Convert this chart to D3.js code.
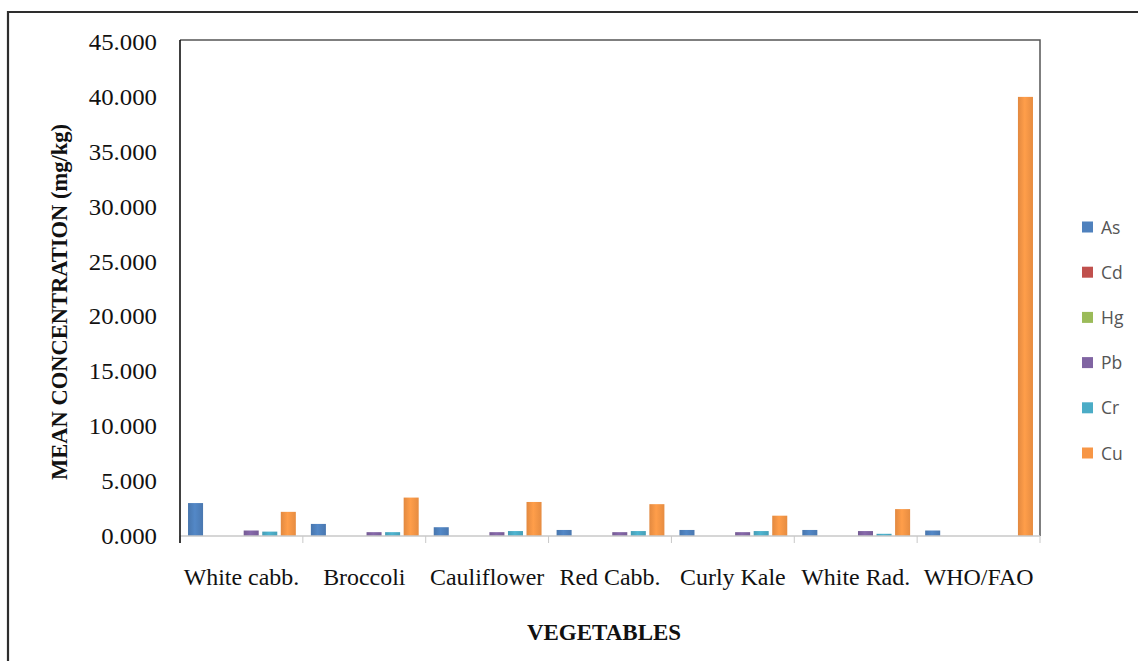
<!DOCTYPE html>
<html>
<head>
<meta charset="utf-8">
<script src="https://cdn.jsdelivr.net/npm/d3@7"></script>
<style>
  html, body { margin: 0; padding: 0; background: #fff; }
  svg { display: block; }
</style>
</head>
<body>
<svg id="chart" width="1138" height="661"></svg>
<script>
// Mean heavy-metal concentrations (mg/kg) per vegetable, plus the WHO/FAO limit
const categories = ["White cabb.", "Broccoli", "Cauliflower", "Red Cabb.", "Curly Kale", "White Rad.", "WHO/FAO"];
const seriesNames = ["As", "Cd", "Hg", "Pb", "Cr", "Cu"];
const seriesColors = ["#4F81BD", "#C0504D", "#9BBB59", "#8064A2", "#4BACC6", "#F79646"];

const As = [3.00, 1.10, 0.80, 0.55, 0.55, 0.55, 0.50];
const Cd = [0.00, 0.00, 0.00, 0.00, 0.00, 0.00, 0.00];
const Hg = [0.00, 0.00, 0.00, 0.00, 0.00, 0.00, 0.00];
const Pb = [0.50, 0.35, 0.35, 0.35, 0.35, 0.45, 0.00];
const Cr = [0.40, 0.35, 0.45, 0.45, 0.45, 0.20, 0.00];
const Cu = [2.20, 3.50, 3.10, 2.90, 1.85, 2.45, 40.00];
const seriesValues = [As, Cd, Hg, Pb, Cr, Cu];

const yTicks = [0, 5, 10, 15, 20, 25, 30, 35, 40, 45];

const svg = d3.select("#chart");
const plot = { left: 180, right: 1040, top: 42, bottom: 536 };
const serif = "'Liberation Serif', 'Times New Roman', serif";

// Outer frame (top and left edges)
svg.append("path")
  .attr("d", `M8,661 L8,12 L1138,12`)
  .attr("fill", "none").attr("stroke", "#2e2e2e").attr("stroke-width", 2.2);

const x0 = d3.scaleBand().domain(categories).range([plot.left, plot.right]).paddingInner(0).paddingOuter(0);
const x1 = d3.scaleBand().domain(seriesNames).range([4.5, x0.bandwidth() - 3.5]).paddingInner(0.19).paddingOuter(0.19);
const y = d3.scaleLinear().domain([0, 45]).range([plot.bottom, plot.top]);

// Gradients for the bar fills
const defs = svg.append("defs");
seriesNames.forEach((s, i) => {
  const c = d3.color(seriesColors[i]);
  const g = defs.append("linearGradient").attr("id", "grad-" + s)
    .attr("x1", "0%").attr("x2", "100%").attr("y1", "0%").attr("y2", "0%");
  g.append("stop").attr("offset", "0%").attr("stop-color", c.darker(0.25));
  g.append("stop").attr("offset", "45%").attr("stop-color", c.brighter(0.15));
  g.append("stop").attr("offset", "100%").attr("stop-color", c.darker(0.2));
});

// Bars
const groups = svg.append("g").selectAll("g").data(categories).join("g")
  .attr("transform", d => `translate(${x0(d)},0)`);
groups.selectAll("rect")
  .data((d, ci) => seriesNames.map((s, si) => ({ s, v: seriesValues[si][ci] })))
  .join("rect")
  .attr("x", d => x1(d.s))
  .attr("width", x1.bandwidth())
  .attr("y", d => y(d.v))
  .attr("height", d => y(0) - y(d.v))
  .attr("fill", d => `url(#grad-${d.s})`);

// Plot area border (top and right)
svg.append("path")
  .attr("d", `M${plot.left},${plot.top - 2} L${plot.right},${plot.top - 2} L${plot.right},${plot.bottom}`)
  .attr("fill", "none").attr("stroke", "#555").attr("stroke-width", 1.5);

// X axis
const xAxis = svg.append("g").attr("transform", `translate(0,${plot.bottom})`);
xAxis.append("line").attr("x1", plot.left).attr("x2", plot.right)
  .attr("stroke", "#c8c8c8").attr("stroke-width", 1.5);
const tickXs = categories.map(c => x0(c)).concat([plot.right]);
xAxis.selectAll(".xt").data(tickXs).join("line")
  .attr("x1", d => d).attr("x2", d => d).attr("y1", 0).attr("y2", 7)
  .attr("stroke", "#c8c8c8");
xAxis.selectAll(".xl").data(categories).join("text")
  .attr("transform", d => `translate(${x0(d) + x0.bandwidth() / 2},49) scale(1.04,1)`)
  .attr("text-anchor", "middle")
  .attr("font-family", serif).attr("font-size", 23).attr("fill", "#111")
  .text(d => d);

// Y axis
const yAxis = svg.append("g").attr("transform", `translate(${plot.left},0)`);
yAxis.append("line").attr("y1", plot.top - 2).attr("y2", plot.bottom + 7)
  .attr("stroke", "#111").attr("stroke-width", 1.6);
yAxis.selectAll(".yl").data(yTicks).join("text")
  .attr("transform", d => `translate(-23,${y(d) + 8}) scale(1.08,1)`)
  .attr("text-anchor", "end")
  .attr("font-family", serif).attr("font-size", 23).attr("fill", "#111")
  .text(d => d3.format(".3f")(d));

// Axis titles
svg.append("text")
  .attr("transform", `translate(67,${(122 + 482) / 2}) rotate(-90)`)
  .attr("text-anchor", "middle")
  .attr("font-family", serif).attr("font-size", 22.5).attr("font-weight", "bold").attr("fill", "#111")
  .text("MEAN CONCENTRATION (mg/kg)");
svg.append("text")
  .attr("x", 604).attr("y", 640)
  .attr("text-anchor", "middle")
  .attr("font-family", serif).attr("font-size", 23).attr("font-weight", "bold").attr("fill", "#111")
  .text("VEGETABLES");

// Legend
const legend = svg.append("g").selectAll("g").data(seriesNames).join("g")
  .attr("transform", (d, i) => `translate(1082,${227 + i * 45.2})`);
legend.append("rect").attr("x", 0).attr("y", -5.5).attr("width", 11).attr("height", 11)
  .attr("fill", (d, i) => seriesColors[i]);
legend.append("text").attr("x", 19).attr("y", 6.5)
  .attr("font-family", "'Open Sans', 'Noto Sans', sans-serif").attr("font-size", 17.5).attr("fill", "#555")
  .text(d => d);
</script>
</body>
</html>
